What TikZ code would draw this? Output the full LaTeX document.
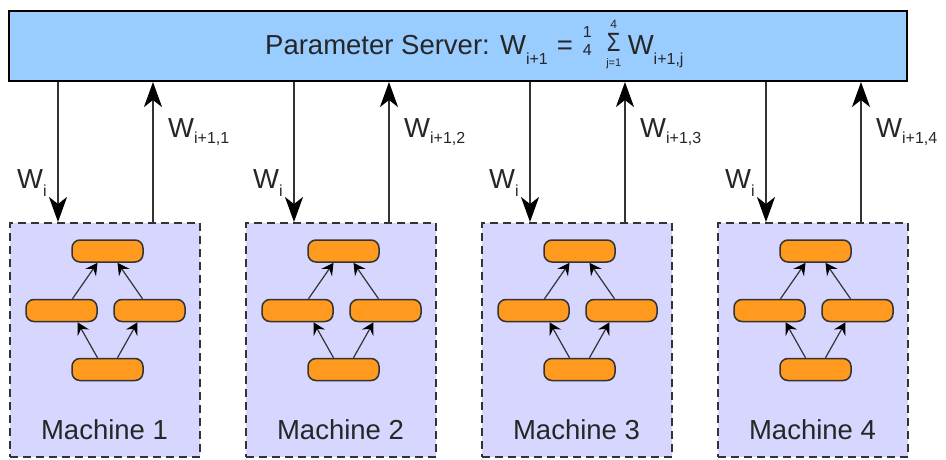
\documentclass[tikz,border=0pt]{standalone}
\usepackage{fontspec}
\usepackage{graphicx}
\setmainfont{Liberation Sans}
\usetikzlibrary{arrows.meta}
\definecolor{psblue}{HTML}{99CCFF}
\definecolor{mlav}{HTML}{D6D6FF}
\definecolor{lorange}{HTML}{FF9A1E}
\definecolor{dk}{HTML}{333333}
\newcommand{\lowsub}[2]{\raisebox{-#1pt}{\fontsize{16}{16}\selectfont #2}}
\newcommand{\quarter}{\rlap{\raisebox{17pt}{\fontsize{16}{16}\selectfont 1}}\raisebox{-1pt}{\fontsize{16}{16}\selectfont 4}}
\newcommand{\sumst}{\makebox[14pt]{\makebox[0pt]{\raisebox{26pt}{\fontsize{12}{12}\selectfont 4}}\makebox[0pt]{\raisebox{3pt}{\scalebox{1}[1.2]{\fontsize{22}{22}\selectfont Σ}}}\makebox[0pt]{\raisebox{-12pt}{\fontsize{11}{11}\selectfont j=1}}}}
\begin{document}
\begin{tikzpicture}[x=1pt,y=-1pt,
 server/.style={draw=black, line width=2pt, fill=psblue, minimum width=898pt, minimum height=70pt, inner sep=0pt},
 machine/.style={draw=dk, line width=2pt, dash pattern=on 8pt off 5pt, fill=mlav, minimum width=190pt, minimum height=234pt, inner sep=0pt},
 layer/.style={draw=dk, line width=1.5pt, fill=lorange, rounded corners=8pt, minimum width=71pt, minimum height=22pt, inner sep=0pt},
 big/.style={draw=dk, line width=2pt, -{Stealth[length=25pt,width=18pt,inset=7pt,black]}},
 small/.style={draw=dk, line width=1.2pt, -{Stealth[length=12pt,width=13pt,inset=4.5pt,black]}},
 lbl/.style={font=\fontsize{27.5}{27.5}\selectfont, inner sep=0pt, anchor=base west, text=black!85},
 mlbl/.style={font=\fontsize{27.5}{27.5}\selectfont, inner sep=0pt, anchor=base, text=black!85}]
\useasboundingbox (0,0) rectangle (946,459);
\node[server] (ps) at (458,46) {};
\node[lbl] (pstext) at (265,54) {Parameter Server: W\lowsub{10}{i+1}\hspace{9pt}=\hspace{10pt}\quarter\hspace{15pt}\sumst\hspace{7pt}W\lowsub{10}{i+1,j}};
\foreach \k in {1,2,3,4}{
 \pgfmathsetmacro{\L}{10+236*(\k-1)}
 \node[machine] (m\k) at (\L+95,340) {};
 \node[layer] (t\k) at (\L+97.5,251) {};
 \node[layer] (l\k) at (\L+51.5,310.5) {};
 \node[layer] (r\k) at (\L+139.5,310.5) {};
 \node[layer] (b\k) at (\L+97.5,369.5) {};
 \node[mlbl] (ml\k) at (\L+94.5,439) {Machine \k};
 \draw[small] ([xshift=-10pt]b\k.north) -- ([xshift=16pt]l\k.south);
 \draw[small] ([xshift=10pt]b\k.north) -- ([xshift=-12pt]r\k.south);
 \draw[small] ([xshift=11pt]l\k.north) -- ([xshift=-10pt]t\k.south);
 \draw[small] ([xshift=-7pt]r\k.north) -- ([xshift=10pt]t\k.south);
 \coordinate (d\k) at ([xshift=-47pt]m\k.north);
 \coordinate (u\k) at ([xshift=48pt]m\k.north);
 \draw[big] (d\k |- ps.south) -- (d\k);
 \draw[big] (u\k) -- (u\k |- ps.south);
 \node[lbl] (wi\k) at (\L+7,188) {W\lowsub{8}{i}};
 \node[lbl] (wn\k) at (\L+158,137) {W\lowsub{6}{i+1,\k}};
}
\end{tikzpicture}
\end{document}
